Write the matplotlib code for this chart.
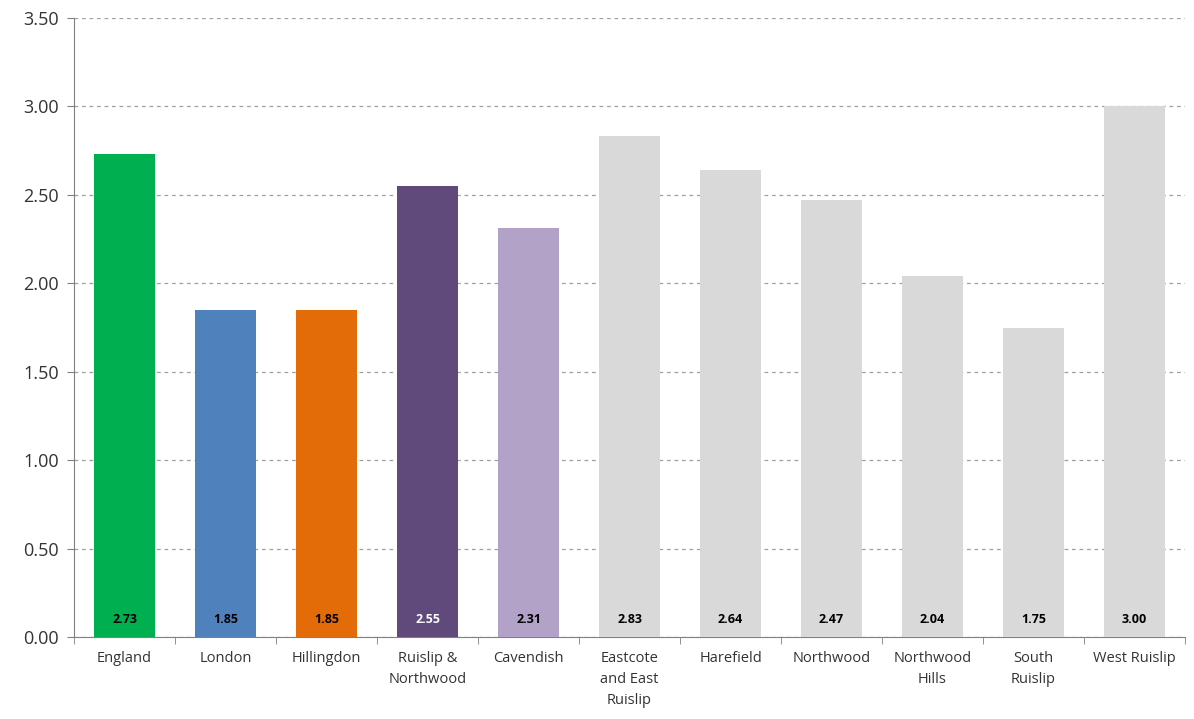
import matplotlib
matplotlib.use("Agg")
import matplotlib.pyplot as plt
import numpy as np

categories = ["England", "London", "Hillingdon", "Ruislip &\nNorthwood", "Cavendish",
              "Eastcote\nand East\nRuislip", "Harefield", "Northwood", "Northwood\nHills",
              "South\nRuislip", "West Ruislip"]
values = [2.73, 1.85, 1.85, 2.55, 2.31, 2.83, 2.64, 2.47, 2.04, 1.75, 3.00]
colors = ["#00B050", "#4F81BD", "#E36C09", "#604A7B", "#B2A2C7",
          "#D9D9D9", "#D9D9D9", "#D9D9D9", "#D9D9D9", "#D9D9D9", "#D9D9D9"]
label_colors = ["black", "black", "black", "white", "black",
                "black", "black", "black", "black", "black", "black"]
yticks = [0.0, 0.5, 1.0, 1.5, 2.0, 2.5, 3.0, 3.5]

plt.rcParams['font.family'] = ['Open Sans', 'DejaVu Sans']

fig = plt.figure(figsize=(11.94, 7.19), dpi=100)
ax = fig.add_axes([0.062, 0.114, 0.9305, 0.861])

x = np.arange(len(categories))
ax.bar(x, values, width=0.61, color=colors, zorder=3)
for xi, v, lc in zip(x, values, label_colors):
    ax.text(xi, 0.1, f"{v:.2f}", ha="center", va="center", fontsize=9,
            fontweight="bold", color=lc, zorder=4)

ax.set_xlim(-0.5, len(categories) - 0.5)
ax.set_ylim(0, 3.5)
ax.set_yticks(yticks)
ax.set_yticklabels([f"{t:.2f}" for t in yticks], fontsize=13, color="#333333")
ax.yaxis.grid(True, linestyle=(0, (3, 3)), color="#A0A0A0", linewidth=0.9, zorder=0)

ax.set_xticks(x)
ax.set_xticklabels(categories, fontsize=10.5, color="#333333", linespacing=1.55)
ax.tick_params(axis="x", length=0, pad=10)
ax.set_xticks(np.arange(-0.5, len(categories), 1.0), minor=True)
ax.tick_params(axis="x", which="minor", length=5, color="#808080", direction="out")
ax.tick_params(axis="y", length=5, color="#808080", direction="out", pad=6)

for s in ["top", "right"]:
    ax.spines[s].set_visible(False)
ax.spines["left"].set_color("#808080")
ax.spines["bottom"].set_color("#808080")

fig.savefig("out.png", dpi=100)
